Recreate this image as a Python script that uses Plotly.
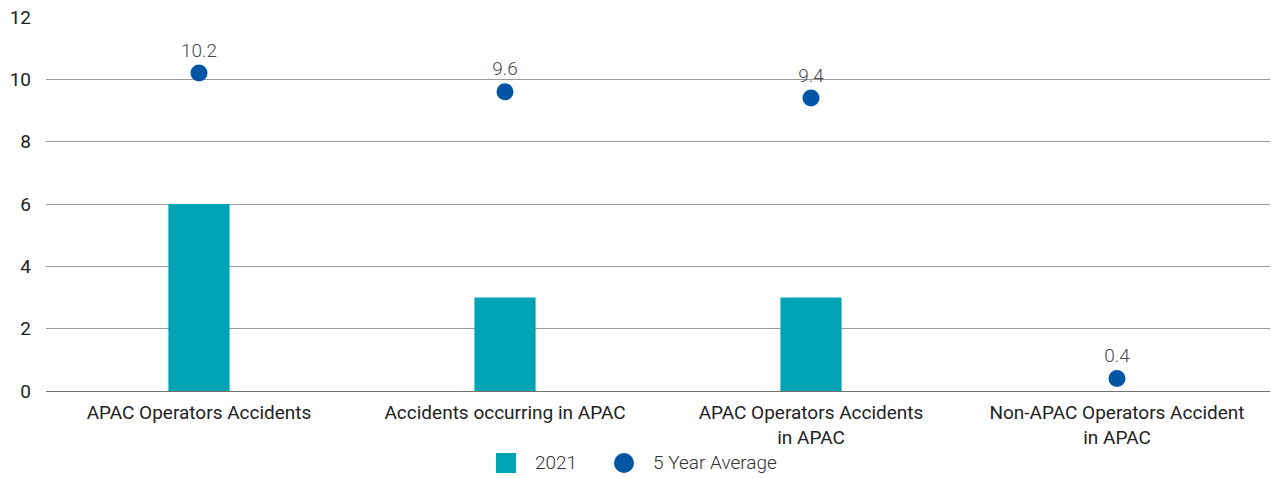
import plotly.graph_objects as go

categories = [
    "APAC Operators Accidents",
    "Accidents occurring in APAC",
    "APAC Operators Accidents<br>in APAC",
    "Non-APAC Operators Accident<br>in APAC",
]
values_2021 = [6, 3, 3, 0]
five_year_avg = [10.2, 9.6, 9.4, 0.4]
y_ticks = [0, 2, 4, 6, 8, 10, 12]
series_names = ["2021", "5 Year Average"]

TEAL = "#00A4B5"
BLUE = "#0055A4"
FONT = "Roboto"

fig = go.Figure()

fig.add_trace(go.Bar(
    x=categories,
    y=values_2021,
    name=series_names[0],
    marker=dict(color=TEAL, line=dict(width=0)),
    width=0.2,
    showlegend=False,
))

fig.add_trace(go.Scatter(
    x=categories,
    y=five_year_avg,
    name=series_names[1],
    mode="markers+text",
    marker=dict(color=BLUE, size=17),
    text=[f"{v:.1f}" for v in five_year_avg],
    textposition="top center",
    textfont=dict(family=FONT, size=19, color="#4a4a4a", weight=300),
    showlegend=False,
))

# Legend drawn as paper-referenced swatches and labels below the plot
plot_left, plot_width = 46, 1224
plot_bottom, plot_height = 391, 374


def px_x(px):
    return (px - plot_left) / plot_width


def px_y(py):
    return (plot_bottom - py) / plot_height


legend_cy = 463
swatch = 20
legend_items = [
    (series_names[0], TEAL, "rect", 496, 533),
    (series_names[1], BLUE, "circle", 614, 651),
]
for label, color, kind, sx, tx in legend_items:
    fig.add_shape(
        type=kind, xref="paper", yref="paper",
        x0=px_x(sx), x1=px_x(sx + swatch),
        y0=px_y(legend_cy + swatch / 2), y1=px_y(legend_cy - swatch / 2),
        fillcolor=color, line=dict(width=0),
    )
    fig.add_annotation(
        x=px_x(tx), y=px_y(legend_cy), xref="paper", yref="paper",
        xanchor="left", yanchor="middle", showarrow=False,
        text=label, font=dict(family=FONT, size=19, color="#333333", weight=300),
    )

fig.update_layout(
    width=1271,
    height=478,
    margin=dict(l=46, r=1, t=17, b=87, autoexpand=False),
    plot_bgcolor="white",
    paper_bgcolor="white",
    font=dict(family=FONT, size=19, color="#222222"),
    showlegend=False,
)

fig.update_xaxes(
    type="category",
    showgrid=False,
    showline=False,
    ticks="",
    ticklabelstandoff=8,
    tickfont=dict(family=FONT, size=19, color="#222222"),
)

fig.update_yaxes(
    range=[0, 12],
    tickvals=y_ticks,
    showgrid=True,
    gridcolor="#9a9a9a",
    gridwidth=1,
    zeroline=True,
    zerolinecolor="#707070",
    zerolinewidth=1,
    showline=False,
    ticks="",
    ticklabelstandoff=14,
    tickfont=dict(family=FONT, size=19, color="#222222"),
)

fig.write_html("out.html")
